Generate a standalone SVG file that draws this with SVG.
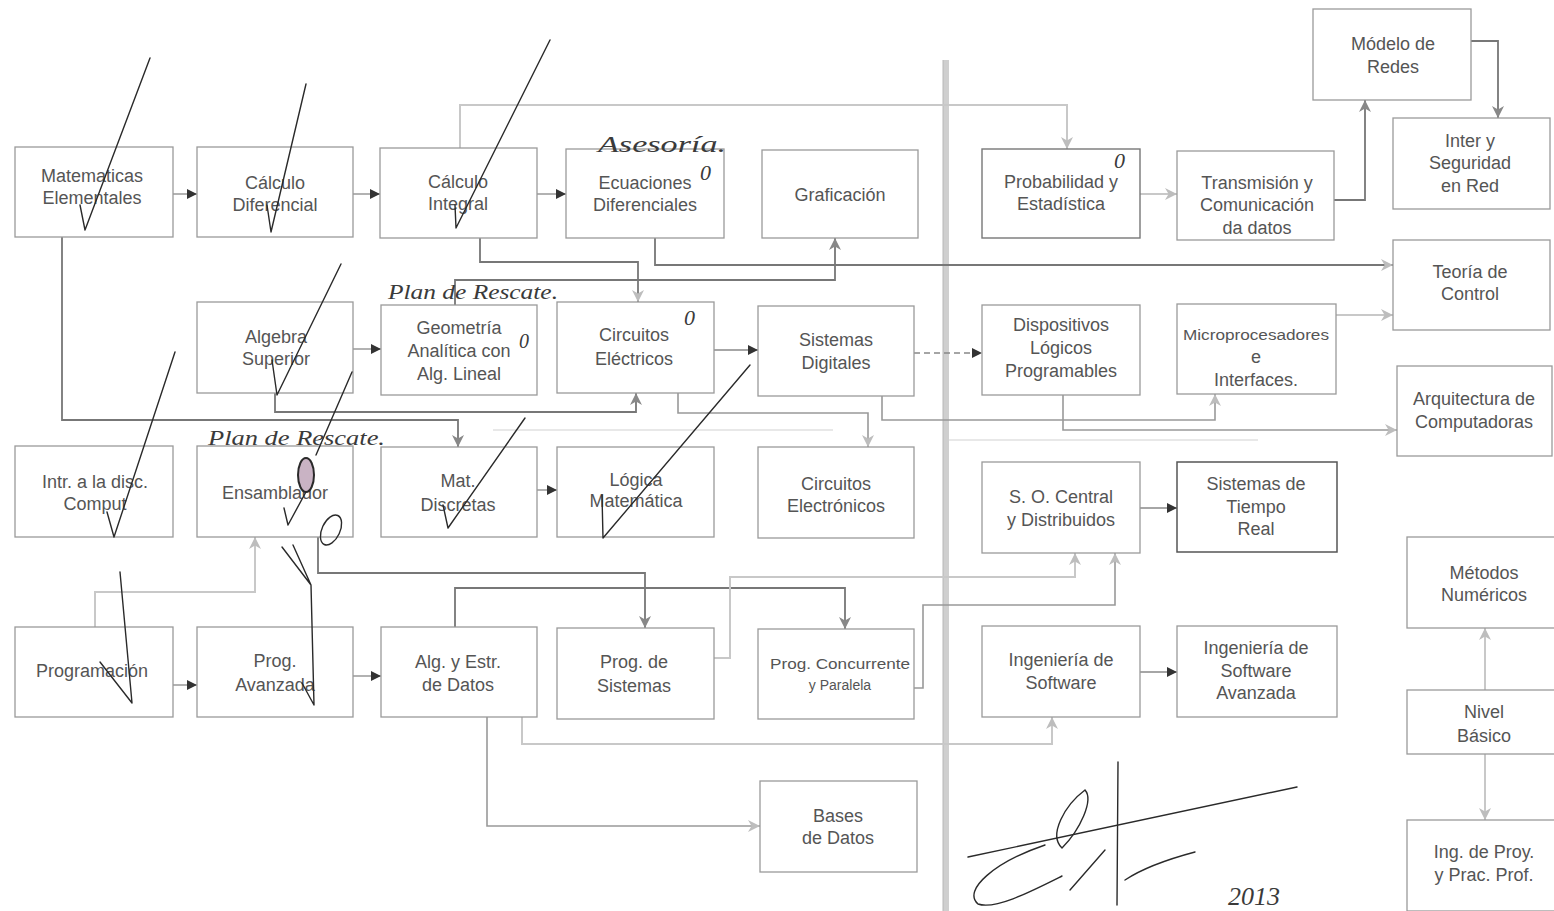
<svg xmlns="http://www.w3.org/2000/svg" width="1554" height="911" viewBox="0 0 1554 911">
<style>
.box{fill:#fff;stroke:#9a9a9a;stroke-width:1.3}
.boxd{fill:#fff;stroke:#555;stroke-width:1.5}
.boxm{fill:#fff;stroke:#777;stroke-width:1.4}
.t{font-family:"Liberation Sans",Arial,sans-serif;font-size:18px;fill:#555;text-anchor:middle}
.ts{font-family:"Liberation Sans",Arial,sans-serif;font-size:14px;fill:#555;text-anchor:middle}
.cd{fill:none;stroke:#888;stroke-width:1.3}
.cm{fill:none;stroke:#777;stroke-width:1.8}
.cg{fill:none;stroke:#999;stroke-width:1.6}
.cl{fill:none;stroke:#c8c8c8;stroke-width:2}
.ink{fill:none;stroke:#2a2a2a;stroke-width:1.4;stroke-linecap:round;stroke-linejoin:round}
.hw{font-family:"Liberation Serif",serif;font-style:italic;fill:#3a3a3a}
</style>
<defs>
<marker id="ad" viewBox="0 0 10 10" refX="10" refY="5" markerWidth="11" markerHeight="10" markerUnits="userSpaceOnUse" orient="auto"><path d="M0,0 L10,5 L0,10 z" fill="#333"/></marker>
<marker id="ag" viewBox="0 0 10 10" refX="10" refY="5" markerWidth="14" markerHeight="12" markerUnits="userSpaceOnUse" orient="auto"><path d="M0,0 L10,5 L0,10 L3,5 z" fill="#888"/></marker>
<marker id="al" viewBox="0 0 10 10" refX="10" refY="5" markerWidth="14" markerHeight="12" markerUnits="userSpaceOnUse" orient="auto"><path d="M0,0 L10,5 L0,10 L3,5 z" fill="#bdbdbd"/></marker>
</defs>
<rect width="1554" height="911" fill="#fff"/>

<g id="divider">
<line x1="946" y1="60" x2="946" y2="911" stroke="#cfcfcf" stroke-width="6"/>
<line x1="943" y1="60" x2="943" y2="911" stroke="#b8b8b8" stroke-width="1"/>
</g>

<g id="connectors">
<path class="cd" d="M173,194 H197" marker-end="url(#ad)"/>
<path class="cd" d="M353,194 H380" marker-end="url(#ad)"/>
<path class="cd" d="M537,194 H566" marker-end="url(#ad)"/>
<path class="cl" d="M460,148 V105 H1067 V149" marker-end="url(#al)"/>
<path class="cl" d="M1140,194 H1177" marker-end="url(#al)"/>
<path class="cm" d="M1334,200 H1365 V100" stroke-width="2.2" marker-end="url(#ag)"/>
<path class="cm" d="M1471,41 H1498 V118" stroke="#555" stroke-width="2.6" marker-end="url(#ag)"/>
<path class="cm" d="M655,238 V265 H1393" marker-end="url(#al)"/>
<path class="cm" d="M480,238 V262 H638 V302" marker-end="url(#al)"/>
<path class="cm" d="M455,305 V280 H835 V238" marker-end="url(#ag)"/>
<path class="cd" d="M353,349 H381" marker-end="url(#ad)"/>
<path class="cm" d="M275,393 V412 H636 V393" marker-end="url(#ag)"/>
<path class="cm" d="M62,237 V420 H458 V447" marker-end="url(#ag)"/>
<path class="cd" d="M714,350 H758" marker-end="url(#ad)"/>
<path class="cg" d="M678,393 V413 H868 V447" marker-end="url(#al)"/>
<path class="cd" d="M914,353 H982" stroke-dasharray="6,4" marker-end="url(#ad)"/>
<path class="cg" d="M882,396 V420 H1215 V394" marker-end="url(#al)"/>
<path class="cg" d="M1063,395 V430 H1397" marker-end="url(#al)"/>
<path class="cl" d="M1336,315 H1393" marker-end="url(#al)"/>
<path class="cl" d="M95,627 V592 H255 V537" marker-end="url(#al)"/>
<path class="cm" d="M318,537 V573 H645 V628" marker-end="url(#ag)"/>
<path class="cm" d="M455,627 V588 H845 V629" marker-end="url(#ag)"/>
<path class="cl" d="M714,658 H730 V577 H1075 V553" marker-end="url(#al)"/>
<path class="cg" d="M914,688 H923 V605 H1115 V553" marker-end="url(#al)"/>
<path class="cg" d="M487,717 V826 H760" marker-end="url(#al)"/>
<path class="cl" d="M522,717 V744 H1052 V717" marker-end="url(#al)"/>
<path class="cd" d="M173,685 H197" marker-end="url(#ad)"/>
<path class="cd" d="M353,676 H381" marker-end="url(#ad)"/>
<path class="cd" d="M537,490 H557" marker-end="url(#ad)"/>
<path class="cd" d="M1140,508 H1177" marker-end="url(#ad)"/>
<path class="cd" d="M1140,672 H1177" marker-end="url(#ad)"/>
<path class="cl" d="M1485,690 V628" marker-end="url(#al)"/>
<path class="cl" d="M1485,754 V820" marker-end="url(#al)"/>
<path d="M493,430 H833" stroke="#e0e0e0" stroke-width="1.5" fill="none"/>
<path d="M949,440 H1258" stroke="#e0e0e0" stroke-width="1.5" fill="none"/>
</g>

<g id="n-me"><rect class="box" x="15" y="147" width="158" height="90"/><text class="t" x="92" y="182">Matematicas</text><text class="t" x="92" y="204">Elementales</text></g>
<g id="n-cd"><rect class="box" x="197" y="147" width="156" height="90"/><text class="t" x="275" y="189">Cálculo</text><text class="t" x="275" y="211">Diferencial</text></g>
<g id="n-ci"><rect class="box" x="380" y="148" width="157" height="90"/><text class="t" x="458" y="188">Cálculo</text><text class="t" x="458" y="210">Integral</text></g>
<g id="n-ed"><rect class="box" x="566" y="149" width="158" height="89"/><text class="t" x="645" y="189">Ecuaciones</text><text class="t" x="645" y="211">Diferenciales</text></g>
<g id="n-gr"><rect class="box" x="762" y="150" width="156" height="88"/><text class="t" x="840" y="201">Graficación</text></g>
<g id="n-pe"><rect class="boxm" x="982" y="149" width="158" height="89"/><text class="t" x="1061" y="188">Probabilidad y</text><text class="t" x="1061" y="210">Estadística</text></g>
<g id="n-tc"><rect class="box" x="1177" y="151" width="157" height="89"/><text class="t" x="1257" y="189">Transmisión y</text><text class="t" x="1257" y="211">Comunicación</text><text class="t" x="1257" y="234">da datos</text></g>
<g id="n-mr"><rect class="box" x="1313" y="9" width="158" height="91"/><text class="t" x="1393" y="50">Módelo de</text><text class="t" x="1393" y="73">Redes</text></g>
<g id="n-is"><rect class="box" x="1393" y="118" width="157" height="91"/><text class="t" x="1470" y="147">Inter y</text><text class="t" x="1470" y="169">Seguridad</text><text class="t" x="1470" y="192">en Red</text></g>
<g id="n-tctl"><rect class="box" x="1393" y="240" width="157" height="90"/><text class="t" x="1470" y="278">Teoría de</text><text class="t" x="1470" y="300">Control</text></g>
<g id="n-ac"><rect class="box" x="1397" y="366" width="155" height="90"/><text class="t" x="1474" y="405">Arquitectura de</text><text class="t" x="1474" y="428">Computadoras</text></g>

<g id="n-as"><rect class="box" x="197" y="302" width="156" height="91"/><text class="t" x="276" y="343">Algebra</text><text class="t" x="276" y="365">Superior</text></g>
<g id="n-ga"><rect class="box" x="381" y="305" width="156" height="90"/><text class="t" x="459" y="334">Geometría</text><text class="t" x="459" y="357">Analítica con</text><text class="t" x="459" y="380">Alg. Lineal</text></g>
<g id="n-ce"><rect class="box" x="557" y="302" width="157" height="91"/><text class="t" x="634" y="341">Circuitos</text><text class="t" x="634" y="365">Eléctricos</text></g>
<g id="n-sd"><rect class="box" x="758" y="306" width="156" height="90"/><text class="t" x="836" y="346">Sistemas</text><text class="t" x="836" y="369">Digitales</text></g>
<g id="n-dlp"><rect class="box" x="982" y="305" width="158" height="90"/><text class="t" x="1061" y="331">Dispositivos</text><text class="t" x="1061" y="354">Lógicos</text><text class="t" x="1061" y="377">Programables</text></g>
<g id="n-mi"><rect class="box" x="1177" y="304" width="159" height="90"/><text class="ts" x="1256" y="340" textLength="146" lengthAdjust="spacingAndGlyphs">Microprocesadores</text><text class="t" x="1256" y="363">e</text><text class="t" x="1256" y="386">Interfaces.</text></g>

<g id="n-idc"><rect class="box" x="15" y="446" width="158" height="91"/><text class="t" x="95" y="488">Intr. a la disc.</text><text class="t" x="95" y="510">Comput</text></g>
<g id="n-en"><rect class="box" x="197" y="446" width="156" height="91"/><text class="t" x="275" y="499">Ensamblador</text></g>
<g id="n-md"><rect class="box" x="381" y="447" width="156" height="90"/><text class="t" x="458" y="487">Mat.</text><text class="t" x="458" y="511">Discretas</text></g>
<g id="n-lm"><rect class="box" x="557" y="447" width="157" height="90"/><text class="t" x="636" y="486">Lógica</text><text class="t" x="636" y="507">Matemática</text></g>
<g id="n-cel"><rect class="box" x="758" y="447" width="156" height="91"/><text class="t" x="836" y="490">Circuitos</text><text class="t" x="836" y="512">Electrónicos</text></g>
<g id="n-so"><rect class="box" x="982" y="462" width="158" height="91"/><text class="t" x="1061" y="503">S. O. Central</text><text class="t" x="1061" y="526">y Distribuidos</text></g>
<g id="n-str"><rect class="boxd" x="1177" y="462" width="160" height="90"/><text class="t" x="1256" y="490">Sistemas de</text><text class="t" x="1256" y="513">Tiempo</text><text class="t" x="1256" y="535">Real</text></g>

<g id="n-pr"><rect class="box" x="15" y="627" width="158" height="90"/><text class="t" x="92" y="677">Programación</text></g>
<g id="n-pa"><rect class="box" x="197" y="627" width="156" height="90"/><text class="t" x="275" y="667">Prog.</text><text class="t" x="275" y="691">Avanzada</text></g>
<g id="n-aed"><rect class="box" x="381" y="627" width="156" height="90"/><text class="t" x="458" y="668">Alg. y Estr.</text><text class="t" x="458" y="691">de Datos</text></g>
<g id="n-ps"><rect class="box" x="557" y="628" width="157" height="91"/><text class="t" x="634" y="668">Prog. de</text><text class="t" x="634" y="692">Sistemas</text></g>
<g id="n-pc"><rect class="box" x="758" y="629" width="156" height="90"/><text class="ts" x="840" y="669" textLength="140" lengthAdjust="spacingAndGlyphs">Prog. Concurrente</text><text class="ts" x="840" y="690">y Paralela</text></g>
<g id="n-ins"><rect class="box" x="982" y="626" width="158" height="91"/><text class="t" x="1061" y="666">Ingeniería de</text><text class="t" x="1061" y="689">Software</text></g>
<g id="n-isa"><rect class="box" x="1177" y="626" width="160" height="91"/><text class="t" x="1256" y="654">Ingeniería de</text><text class="t" x="1256" y="677">Software</text><text class="t" x="1256" y="699">Avanzada</text></g>
<g id="n-bd"><rect class="box" x="760" y="781" width="157" height="91"/><text class="t" x="838" y="822">Bases</text><text class="t" x="838" y="844">de Datos</text></g>

<g id="n-mn"><rect class="box" x="1407" y="537" width="150" height="91"/><text class="t" x="1484" y="579">Métodos</text><text class="t" x="1484" y="601">Numéricos</text></g>
<g id="n-nb"><rect class="box" x="1407" y="690" width="150" height="64"/><text class="t" x="1484" y="718">Nivel</text><text class="t" x="1484" y="742">Básico</text></g>
<g id="n-ip"><rect class="box" x="1407" y="820" width="150" height="91"/><text class="t" x="1484" y="858">Ing. de Proy.</text><text class="t" x="1484" y="881">y Prac. Prof.</text></g>

<g id="annotations">
<path class="ink" d="M80,205 L85,230 L150,58"/>
<path class="ink" d="M267,205 L271,232 L306,84"/>
<path class="ink" d="M455,205 L456,228 L550,40"/>
<path class="ink" d="M272,360 L277,395 L341,264"/>
<path class="ink" d="M107,512 L114,537 L175,352"/>
<path class="ink" d="M352,372 L316,455"/>
<path class="ink" d="M284,508 L288,525 L307,490"/>
<ellipse cx="306" cy="475" rx="8" ry="17" fill="#c9b3c4" stroke="#2a2a2a" stroke-width="2"/>
<ellipse cx="331" cy="530" rx="9" ry="16" transform="rotate(25 331 530)" class="ink"/>
<path class="ink" d="M282,547 L311,585 M293,545 L311,585 L314,705 M302,683 L314,705"/>
<path class="ink" d="M100,662 L132,703 L120,572"/>
<path class="ink" d="M443,505 L448,528 L525,418"/>
<path class="ink" d="M602,495 L603,538 L750,365"/>
<path class="ink" d="M968,857 L1297,787" stroke-width="1.8"/>
<path class="ink" d="M1118,762 L1117,905"/>
<path class="ink" d="M1085,790 C1065,805 1048,835 1062,848 C1080,830 1094,800 1085,790"/>
<path class="ink" d="M1045,845 C995,862 962,890 978,904 C995,910 1030,892 1062,876"/>
<path class="ink" d="M1070,890 L1105,850 M1125,880 C1140,870 1165,860 1195,852"/>
<text class="hw" x="1228" y="905" font-size="26">2013</text>
<text class="hw" x="388" y="299" font-size="22" textLength="170" lengthAdjust="spacingAndGlyphs">Plan de Rescate.</text>
<text class="hw" x="208" y="445" font-size="22" textLength="177" lengthAdjust="spacingAndGlyphs">Plan de Rescate.</text>
<text class="hw" x="598" y="152" font-size="24" textLength="128" lengthAdjust="spacingAndGlyphs">Asesoría.</text>
<text class="hw" x="700" y="180" font-size="22">0</text>
<text class="hw" x="1114" y="168" font-size="22">0</text>
<text class="hw" x="684" y="325" font-size="22">0</text>
<text class="hw" x="519" y="348" font-size="20">0</text>
</g>
</svg>
